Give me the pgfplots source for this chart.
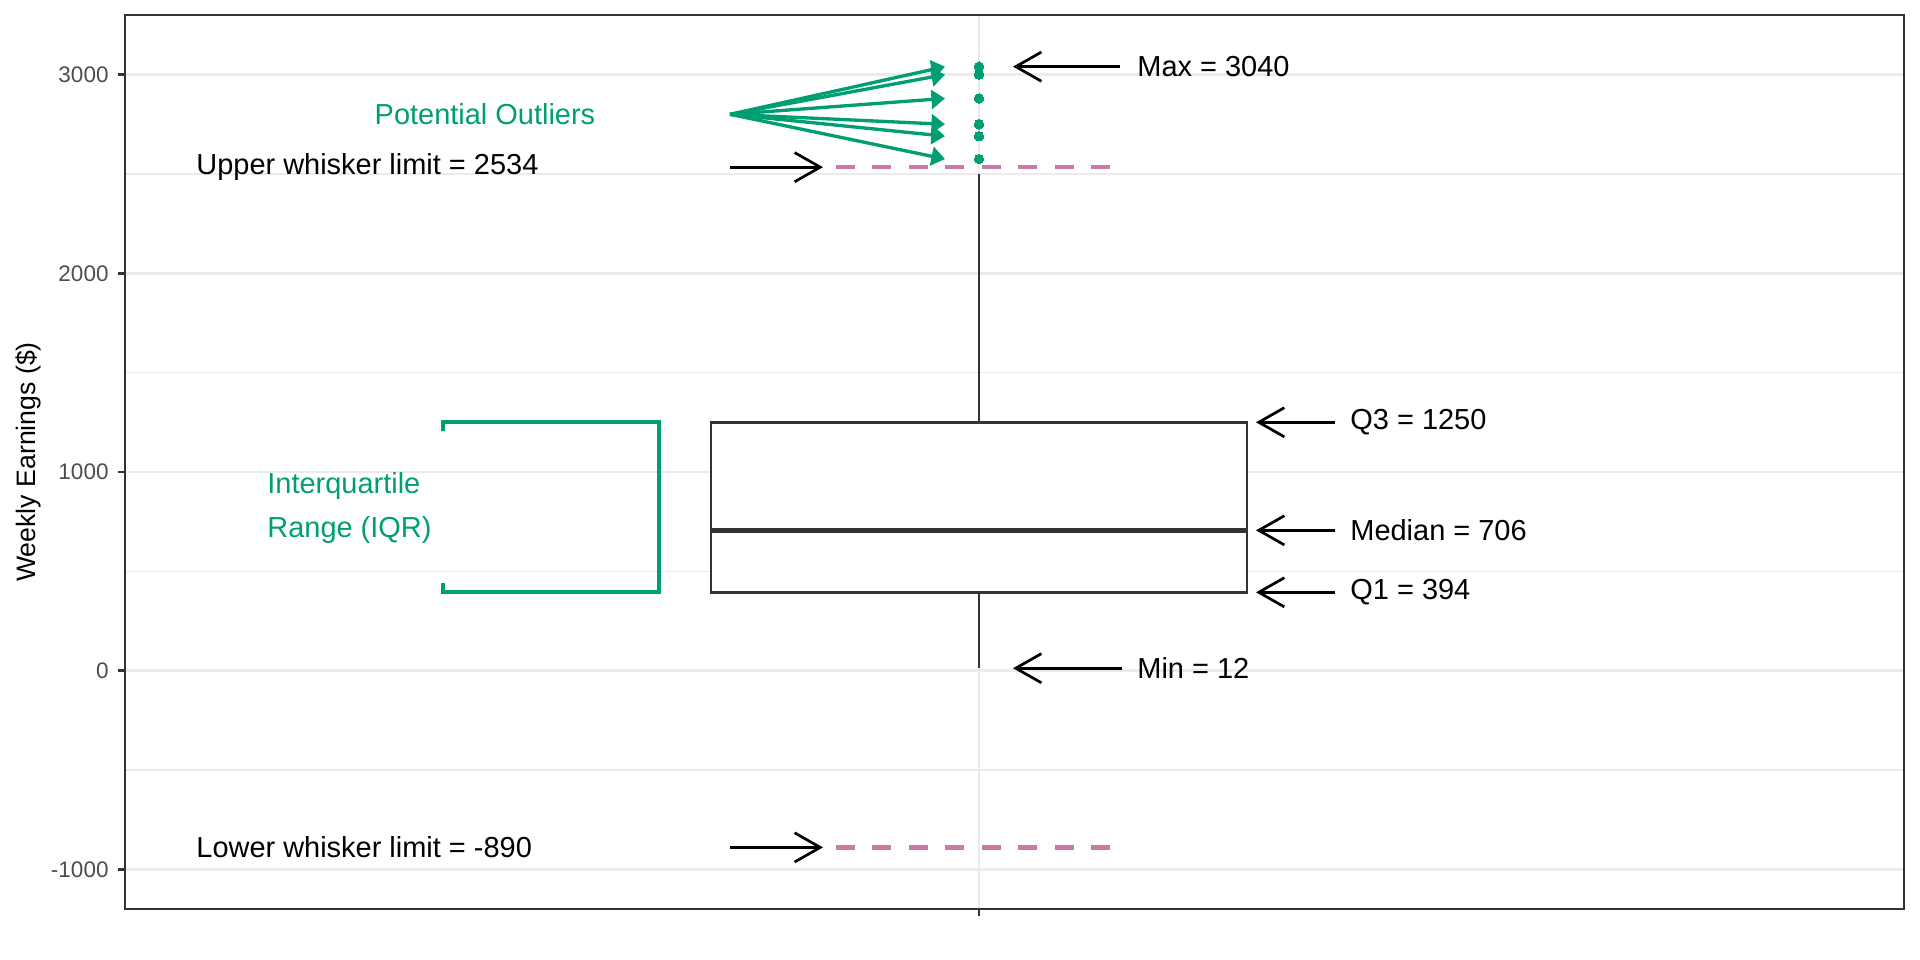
\documentclass[border=0pt]{standalone}
\usepackage{fontspec}
\setmainfont{Liberation Sans}
\usepackage{pgfplots}
\pgfplotsset{compat=1.18}
\usepgfplotslibrary{statistics}
\usetikzlibrary{arrows.meta}

\definecolor{okgreen}{HTML}{009E73}
\definecolor{okpink}{HTML}{CC79A7}
\definecolor{gray20}{HTML}{333333}
\definecolor{gray30}{HTML}{4D4D4D}
\definecolor{gray92}{HTML}{EBEBEB}

\newcommand{\annfont}{\fontsize{13.9}{17}\selectfont}

\pgfplotsset{
  blackarrow/.style={black, line width=1.3pt, -{Straight Barb[length=12.3pt, width=14pt]}},
  greenarrow/.style={okgreen, line width=1.6pt, -{Triangle[length=6.5pt, width=9pt]}},
  limitline/.style={okpink, line width=2.2pt, dash pattern=on 9pt off 8.5pt},
}

\begin{document}
\begin{tikzpicture}
\path[use as bounding box] (-60pt,-24.48pt) rectangle (861.6pt,436.32pt);
\begin{axis}[
  at={(0pt,0pt)}, anchor=south west,
  scale only axis,
  width=853.92pt, height=429.12pt,
  xmin=125, xmax=1904,
  ymin=-1200, ymax=3300,
  xtick={979}, xticklabels={},
  ytick={-1000,0,1000,2000,3000},
  yticklabels={-1000,0,1000,2000,3000},
  minor ytick={-500,500,1500,2500},
  grid=both,
  major grid style={gray92, line width=1.3pt},
  minor grid style={gray92, line width=0.66pt},
  tick pos=left, tick align=outside,
  major tick length=3.4pt, minor tick length=0pt,
  tick style={gray20, line width=1.3pt},
  axis line style={gray20, line width=1.3pt},
  yticklabel style={text=gray30, font=\fontsize{10.8}{12}\selectfont, inner sep=0pt, xshift=-4.3pt},
  clip=false,
]
% whisker limits
\addplot[limitline] coordinates {(836,2534) (1110,2534)};
\addplot[limitline] coordinates {(836,-890) (1110,-890)};

% box plot with outliers
\addplot[
  boxplot prepared={
    draw direction=y,
    draw position=979, box extend=536,
    lower whisker=12, lower quartile=394, median=706,
    upper quartile=1250, upper whisker=2500,
    whisker extend=0,
    every box/.style={draw=gray20, line width=1.3pt, fill=white},
    every whisker/.style={draw=gray20, line width=1.3pt},
    every median/.style={draw=gray20, line width=2.6pt},
  },
  draw=gray20, line width=1.3pt,
  mark=*, mark size=2.3pt,
  mark options={draw=okgreen, fill=okgreen, line width=0pt},
] coordinates {(0,3040) (0,3000) (0,2880) (0,2750) (0,2690) (0,2575)};

% black arrows
\addplot[blackarrow] coordinates {(1120,3040) (1013,3040)};
\addplot[blackarrow] coordinates {(1122,12) (1013,12)};
\addplot[blackarrow] coordinates {(1335,1250) (1256,1250)};
\addplot[blackarrow] coordinates {(1335,706) (1256,706)};
\addplot[blackarrow] coordinates {(1335,394) (1256,394)};
\addplot[blackarrow] coordinates {(730,2534) (823,2534)};
\addplot[blackarrow] coordinates {(730,-890) (823,-890)};

% outlier arrows
\addplot[greenarrow] coordinates {(730,2800) (945,3040)};
\addplot[greenarrow] coordinates {(730,2800) (945,3000)};
\addplot[greenarrow] coordinates {(730,2800) (945,2880)};
\addplot[greenarrow] coordinates {(730,2800) (945,2750)};
\addplot[greenarrow] coordinates {(730,2800) (945,2690)};
\addplot[greenarrow] coordinates {(730,2800) (945,2575)};

% IQR bracket
\addplot[okgreen, line width=2pt] coordinates {(443,1205) (443,1250) (659,1250) (659,394) (443,394) (443,439)};

% labels
\node[anchor=west, inner sep=0pt, font=\annfont] at (axis cs:1137,3040) {Max = 3040};
\node[anchor=west, inner sep=0pt, font=\annfont] at (axis cs:1137,12) {Min = 12};
\node[anchor=west, inner sep=0pt, font=\annfont] at (axis cs:1350,1250) {Q3 = 1250};
\node[anchor=west, inner sep=0pt, font=\annfont] at (axis cs:1350,706) {Median = 706};
\node[anchor=west, inner sep=0pt, font=\annfont] at (axis cs:1350,394) {Q1 = 394};
\node[anchor=west, inner sep=0pt, font=\annfont] at (axis cs:196,2534) {Upper whisker limit = 2534};
\node[anchor=west, inner sep=0pt, font=\annfont] at (axis cs:196,-890) {Lower whisker limit = -890};
\node[font=\annfont, text=okgreen] at (axis cs:485,2800) {Potential Outliers};
\node[anchor=west, inner sep=0pt, align=left, font=\fontsize{13.9}{20.8}\selectfont, text=okgreen] at (axis cs:267,818) {Interquartile\\Range (IQR)};

\node[rotate=90, font=\fontsize{12.8}{15}\selectfont] at ([xshift=-46.56pt]rel axis cs:0,0.5) {Weekly Earnings (\$)};
\end{axis}
\end{tikzpicture}
\end{document}
